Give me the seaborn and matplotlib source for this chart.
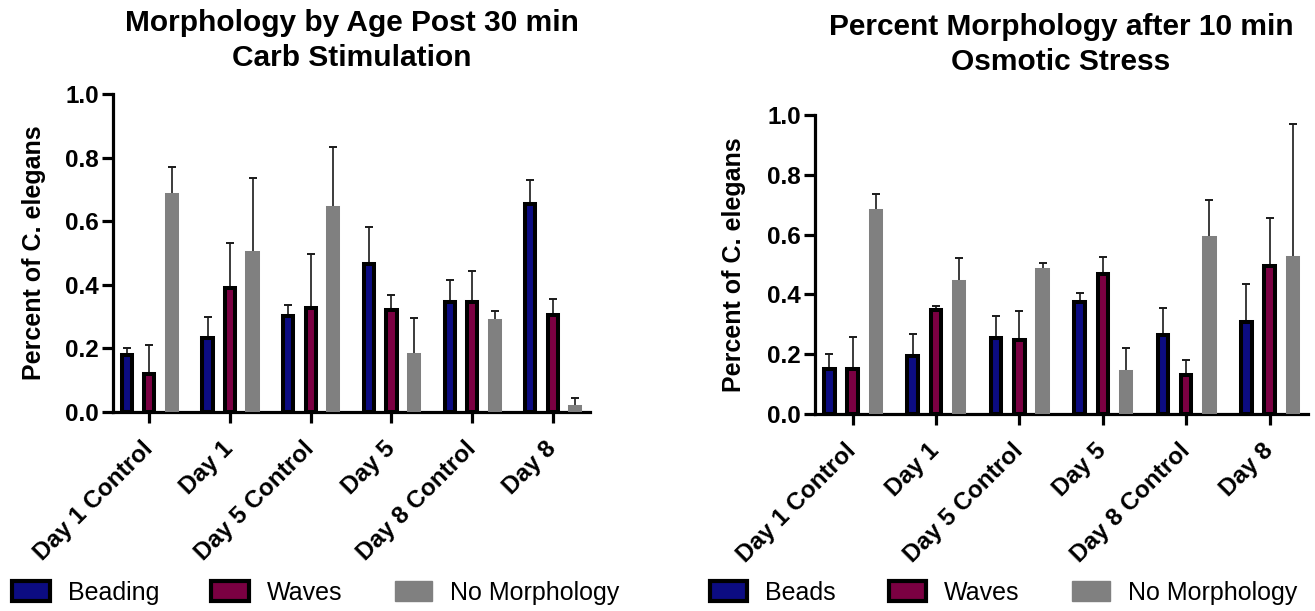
import matplotlib
matplotlib.use("Agg")
import matplotlib.pyplot as plt
from matplotlib.patches import Patch
import seaborn as sns
import pandas as pd

# ---------------- data ----------------
categories = ["Day 1 Control", "Day 1", "Day 5 Control", "Day 5", "Day 8 Control", "Day 8"]

carb_labels = ["Beading", "Waves", "No Morphology"]
carb_beading = [0.178, 0.233, 0.301, 0.465, 0.346, 0.655]
carb_beading_err = [0.022, 0.066, 0.034, 0.118, 0.070, 0.074]
carb_waves = [0.118, 0.390, 0.326, 0.321, 0.346, 0.306]
carb_waves_err = [0.092, 0.142, 0.170, 0.046, 0.098, 0.048]
carb_none = [0.683, 0.500, 0.643, 0.180, 0.287, 0.016]
carb_none_err = [0.087, 0.235, 0.191, 0.115, 0.030, 0.027]

osm_labels = ["Beads", "Waves", "No Morphology"]
osm_beads = [0.152, 0.193, 0.253, 0.374, 0.263, 0.309]
osm_beads_err = [0.047, 0.075, 0.075, 0.032, 0.090, 0.126]
osm_waves = [0.152, 0.347, 0.249, 0.469, 0.132, 0.494]
osm_waves_err = [0.105, 0.014, 0.097, 0.055, 0.048, 0.162]
osm_none = [0.678, 0.442, 0.483, 0.142, 0.589, 0.523]
osm_none_err = [0.057, 0.080, 0.021, 0.078, 0.128, 0.447]

colors = ["#0c0c82", "#7b0042", "#808080"]

# ---------------- style ----------------
sns.set_theme(style="ticks")
plt.rcParams["font.family"] = ["Liberation Sans", "DejaVu Sans"]
plt.rcParams["text.color"] = "black"
plt.rcParams["axes.labelcolor"] = "black"
plt.rcParams["xtick.color"] = "black"
plt.rcParams["ytick.color"] = "black"

fig = plt.figure(figsize=(13.15, 6.11), dpi=100)
ax1 = fig.add_axes([113 / 1315, 1 - 412 / 611, 477 / 1315, 318 / 611])
ax2 = fig.add_axes([815 / 1315, 1 - 414 / 611, 493 / 1315, 299 / 611])


def build(vals, labels):
    rows = []
    for lab, series in zip(labels, vals):
        for c, v in zip(categories, series):
            rows.append({"Group": c, "Morph": lab, "Value": v})
    return pd.DataFrame(rows)


def draw(ax, vals, errs, labels, title, title_x, title_y):
    df = build(vals, labels)
    sns.barplot(data=df, x="Group", y="Value", hue="Morph", order=categories,
                hue_order=labels, palette=dict(zip(labels, colors)),
                width=0.837, gap=0.55, errorbar=None, ax=ax, legend=False,
                saturation=1)
    bar_conts = list(ax.containers)
    for i, cont in enumerate(bar_conts):
        for bar in cont:
            if i < 2:
                bar.set_edgecolor("black")
            else:
                bar.set_edgecolor(colors[2])
            bar.set_linewidth(2.9)
            bar.set_zorder(3)
        xs = [b.get_x() + b.get_width() / 2 for b in cont]
        hs = [b.get_height() for b in cont]
        ax.errorbar(xs, hs, yerr=[[0] * len(hs), errs[i]], fmt="none",
                    ecolor="#1a1a1a", elinewidth=1.2, capsize=2.6,
                    capthick=1.4, zorder=2)
    ax.set_xlim(-0.45, 5.46)
    ax.set_ylim(0, 1.0)
    ax.set_yticks([0, 0.2, 0.4, 0.6, 0.8, 1.0])
    ax.set_yticklabels(["0.0", "0.2", "0.4", "0.6", "0.8", "1.0"])
    ax.set_xlabel("")
    ax.set_ylabel("Percent of C. elegans", fontsize=18, fontweight="bold")
    ax.yaxis.set_label_coords(-0.14, 0.5)
    sns.despine(ax=ax)
    for s in ["left", "bottom"]:
        ax.spines[s].set_linewidth(2.3)
        ax.spines[s].set_color("black")
    ax.tick_params(axis="both", width=2.3, length=8, color="black")
    ax.tick_params(axis="y", labelsize=17.5, pad=2)
    ax.tick_params(axis="x", labelsize=17.5, pad=16)
    for lbl in ax.get_yticklabels():
        lbl.set_fontweight("bold")
    for lbl in ax.get_xticklabels():
        lbl.set_fontweight("bold")
        lbl.set_rotation(45)
        lbl.set_ha("right")
        lbl.set_va("center")
        lbl.set_rotation_mode("anchor")
    fig.text(title_x, title_y, title, ha="center", va="top", fontsize=21.5,
             fontweight="bold", linespacing=1.3, color="black")


draw(ax1, [carb_beading, carb_waves, carb_none],
     [carb_beading_err, carb_waves_err, carb_none_err], carb_labels,
     "Morphology by Age Post 30 min\nCarb Stimulation", 352 / 1315, 0.985)
draw(ax2, [osm_beads, osm_waves, osm_none],
     [osm_beads_err, osm_waves_err, osm_none_err], osm_labels,
     "Percent Morphology after 10 min\nOsmotic Stress", 1061 / 1315, 0.978)


def make_legend(labels, x, colspace):
    handles = [
        Patch(facecolor=colors[0], edgecolor="black", linewidth=3),
        Patch(facecolor=colors[1], edgecolor="black", linewidth=3),
        Patch(facecolor=colors[2], edgecolor=colors[2], linewidth=1),
    ]
    leg = fig.legend(handles, labels, loc="center left", bbox_to_anchor=(x, 1 - 593 / 611),
                     ncol=3, frameon=False, fontsize=18, handlelength=1.5,
                     handleheight=0.84, handletextpad=0.72, columnspacing=colspace,
                     borderpad=0, borderaxespad=0)
    for t in leg.get_texts():
        t.set_color("black")
    return leg


make_legend(carb_labels, 12 / 1315, 2.1)
make_legend(osm_labels, 710 / 1315, 2.1)

fig.savefig("out.png", dpi=100)
